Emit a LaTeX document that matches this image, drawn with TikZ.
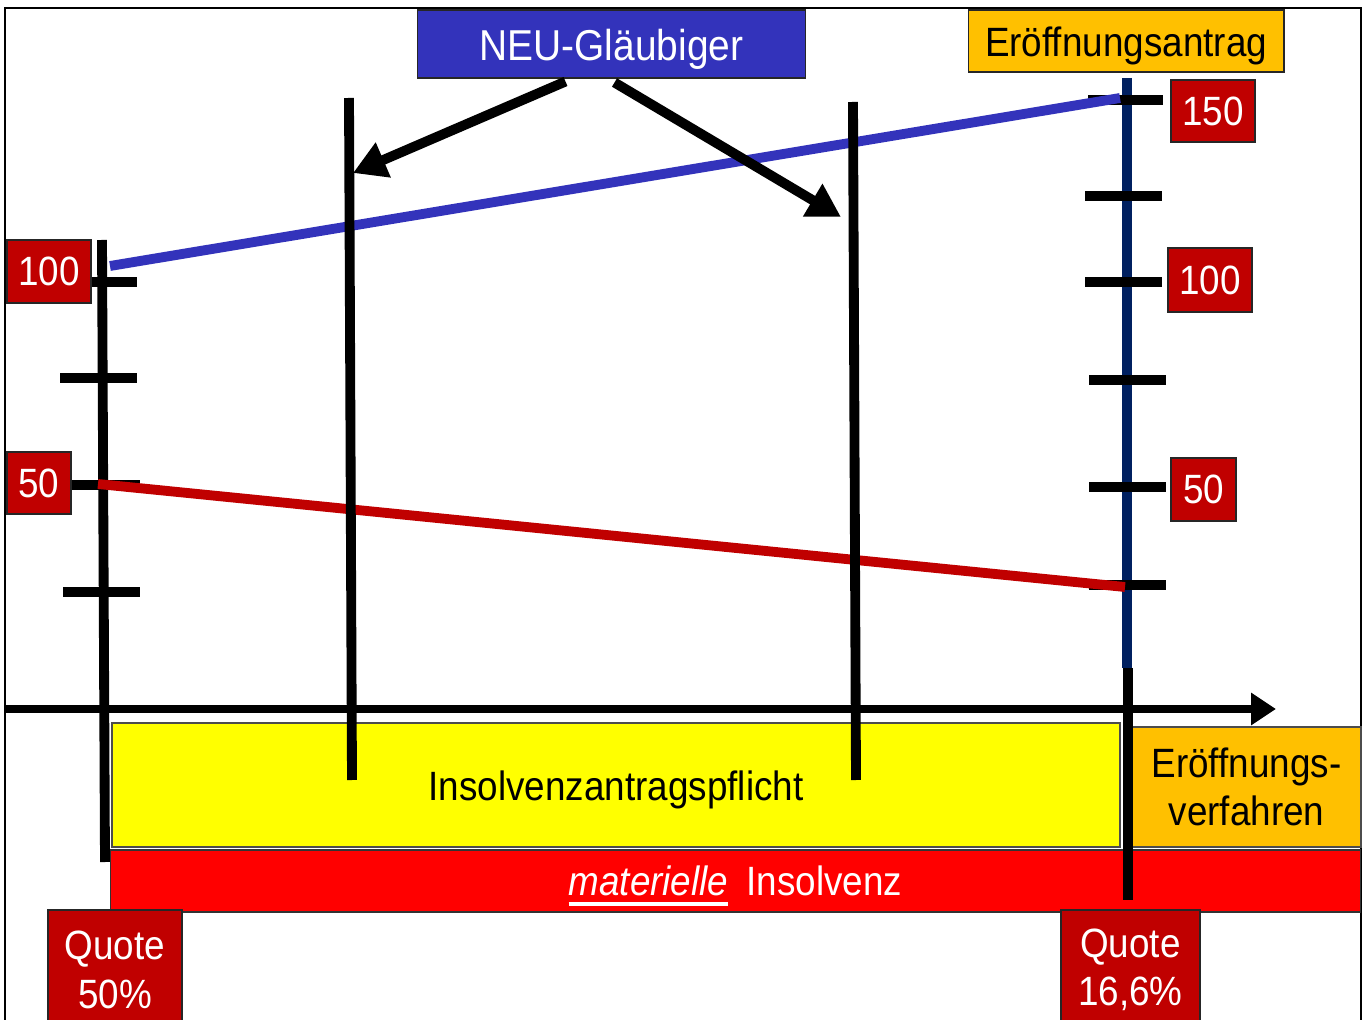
\documentclass[tikz,border=0pt]{standalone}
\usepackage{fontspec}
\setmainfont{Liberation Sans}[FakeStretch=0.9]
\usepackage{tikz}
\usetikzlibrary{arrows.meta}
\usetikzlibrary{calc}
\definecolor{quotered}{HTML}{C00000}
\definecolor{neublue}{HTML}{3333BB}
\definecolor{axisnavy}{HTML}{002060}
\definecolor{antragorange}{HTML}{FFC000}
\definecolor{pflichtyellow}{HTML}{FFFF00}
\definecolor{insored}{HTML}{FF0000}
\newcommand{\thickul}[1]{\setbox0\hbox{#1}\rlap{\rule[-5.5pt]{\wd0}{2.2pt}}\box0}
\newcommand{\lowered}[1]{\raisebox{-2.8pt}[\height][\depth]{#1}}

\begin{document}
\begin{tikzpicture}[x=0.02cm, y=-0.02cm,
    txt/.style={inner sep=0pt, align=center, font=\fontsize{23.3}{27.5}\selectfont},
    numbox/.style={txt, fill=quotered, draw=black!85, line width=0.6pt, text=white},
    tick/.style={line width=5.6pt},
    bar/.style={line width=5.6pt},
    trend/.style={line width=5.6pt}]
    \useasboundingbox (0,0) rectangle (1367,1020);
    \clip (0,0) rectangle (1367,1020);

    % Frame
    \draw[line width=1.2pt] (5,1030) -- (5,8) -- (1361,8) -- (1361,1030);

    % Bottom bands
    \node[txt, fill=pflichtyellow, draw=black!70, line width=0.8pt,
          minimum width=20.16cm, minimum height=2.48cm] (pflicht) at (616,785) {};
    \node[txt] (pflichttext) at (616,790) {Insolvenzantragspflicht};
    \node[txt, fill=antragorange, draw=black!70, line width=0.6pt,
          minimum width=4.58cm, minimum height=2.4cm] (verfahren) at (1246.5,787)
          {Eröffnungs-\\verfahren};
    \node[txt, fill=insored, draw=black!80, line width=0.6pt, text=white,
          minimum width=25.02cm, minimum height=1.24cm] (insolvenz) at (735.5,881)
          {\lowered{\thickul{\itshape materielle}\hspace{0.45em}Insolvenz}};

    % Headers
    \node[txt, fill=neublue, draw=black!85, line width=0.6pt, text=white,
          minimum width=7.78cm, minimum height=1.36cm, font=\fontsize{24.6}{29}\selectfont]
          (neu) at (611.5,44) {\lowered{NEU-Gläubiger}};
    \node[txt, fill=antragorange, draw=black!85, line width=0.6pt,
          minimum width=6.32cm, minimum height=1.24cm] (antrag) at (1126,41)
          {\lowered{Eröffnungsantrag}};

    % Time axis
    \coordinate (t0) at (5,709);
    \coordinate (t1) at (1276,709);
    \draw[line width=4.5pt, -{Triangle[length=0.5cm, width=0.62cm]}] (t0) -- (t1);

    % Left scale
    \draw[bar] (102,240) -- (105,862);
    \draw[tick] (90,282) -- (137,282);
    \draw[tick] (60,378) -- (137,378);
    \draw[tick] (72,485) -- (140,485);
    \draw[tick] (63,592) -- (140,592);

    % Right scale
    \draw[bar, axisnavy] (1127,78) -- (1127,668);
    \draw[bar] (1128,668) -- (1128,900);
    \draw[tick] (1088,100) -- (1163,100);
    \draw[tick] (1085,196) -- (1162,196);
    \draw[tick] (1085,282) -- (1162,282);
    \draw[tick] (1089,380) -- (1166,380);
    \draw[tick] (1089,487) -- (1166,487);
    \draw[tick] (1089,585) -- (1166,585);

    % Claims of old and new creditors
    \draw[trend, neublue] (110,266) -- (1120,98);
    \draw[trend, quotered] (98,484) -- (1125,587);

    % Two points in time
    \coordinate (pA) at (353,173);
    \coordinate (pB) at (841,217);
    \draw[bar] (349,98) -- (352,780);
    \draw[bar] (853,102) -- (856,780);
    \draw[line width=5.6pt, -{Triangle[length=0.66cm, width=0.72cm]}]
        ($(neu.south)+(-46,3)$) -- (pA);
    \draw[line width=5.6pt, -{Triangle[length=0.66cm, width=0.72cm]}]
        ($(neu.south)+(3,4)$) -- (pB);

    % Value labels
    \node[numbox, minimum width=1.68cm, minimum height=1.26cm] (l100) at (49,271.5) {100};
    \node[numbox, minimum width=1.28cm, minimum height=1.24cm] (l50) at (39,483) {50};
    \node[numbox, minimum width=1.68cm, minimum height=1.24cm] (r150) at (1213,111) {150};
    \node[numbox, minimum width=1.68cm, minimum height=1.28cm] (r100) at (1210,280) {100};
    \node[numbox, minimum width=1.3cm, minimum height=1.26cm] (r50) at (1203.5,489.5) {50};

    % Quotas
    \node[numbox, minimum width=2.68cm, minimum height=2.4cm] (qleft) at (115,970) {Quote\\50\%};
    \node[numbox, minimum width=2.78cm, minimum height=2.4cm] (qright) at (1130.5,970) {Quote\\16,6\%};
\end{tikzpicture}
\end{document}
